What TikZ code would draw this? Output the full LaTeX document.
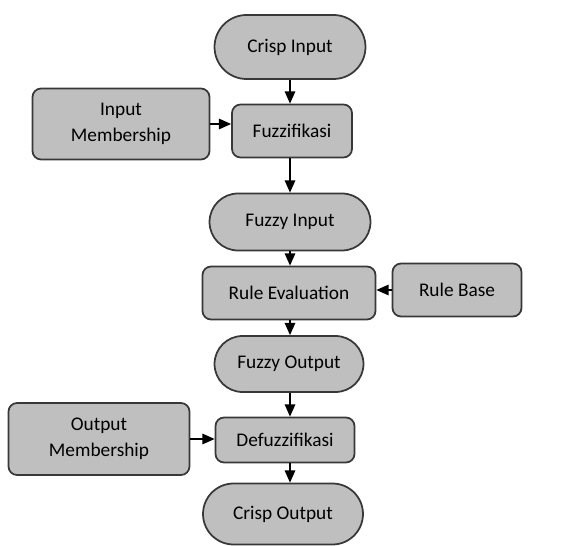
\documentclass[tikz,border=0pt]{standalone}
\usepackage{fontspec}
\setmainfont{Carlito}
\usetikzlibrary{arrows.meta,shapes.misc}

\begin{document}
\begin{tikzpicture}[x=0.02cm,y=-0.02cm,->,>={Triangle[length=7pt,width=6pt]},line width=0.85pt,
	term node/.style={rounded rectangle,draw=black!78,fill=black!25,line width=1pt,font=\fontsize{11}{14.5}\selectfont,inner sep=0pt},
	proc node/.style={rectangle,rounded corners=0.17cm,draw=black!78,fill=black!25,line width=1pt,font=\fontsize{11}{14.5}\selectfont,inner sep=0pt,align=center}]

	\useasboundingbox (0,0) rectangle (567,546);

	%nodes of the main column
	\node[term node, minimum width=3.02cm, minimum height=1.28cm] (CI) at (290,47) {Crisp Input};
	\node[proc node, minimum width=2.4cm, minimum height=1.06cm] (FZ) at (292,131) {Fuzzifikasi};
	\node[term node, minimum width=3.22cm, minimum height=1.14cm] (FI) at (290,222) {Fuzzy Input};
	\node[proc node, minimum width=3.46cm, minimum height=1.06cm] (RE) at (289,293) {Rule Evaluation};
	\node[term node, minimum width=2.98cm, minimum height=1.12cm] (FO) at (289,364) {Fuzzy Output};
	\node[proc node, minimum width=2.78cm, minimum height=0.9cm] (DF) at (285,440) {Defuzzifikasi};
	\node[term node, minimum width=3.2cm, minimum height=1.22cm] (CO) at (283,514) {Crisp Output};

	%side nodes
	\node[proc node, minimum width=3.54cm, minimum height=1.42cm] (IM) at (121,124) {Input\\Membership};
	\node[proc node, minimum width=2.58cm, minimum height=1.06cm] (RB) at (457,290) {Rule Base};
	\node[proc node, minimum width=3.62cm, minimum height=1.44cm] (OM) at (99,439) {Output\\Membership};

	%arrows down the column
	\draw (CI.south) -- (CI.south |- FZ.north);
	\draw (CI.south |- FZ.south) -- (CI.south |- FI.north);
	\draw (CI.south |- FI.south) -- (CI.south |- RE.north);
	\draw (CI.south |- RE.south) -- (CI.south |- FO.north);
	\draw (CI.south |- FO.south) -- (CI.south |- DF.north);
	\draw (CI.south |- DF.south) -- (CI.south |- CO.north);

	%arrows from the side
	\draw (IM.east) -- (IM.east -| FZ.west);
	\draw (RB.west) -- (RB.west -| RE.east);
	\draw (OM.east) -- (OM.east -| DF.west);

\end{tikzpicture}
\end{document}
